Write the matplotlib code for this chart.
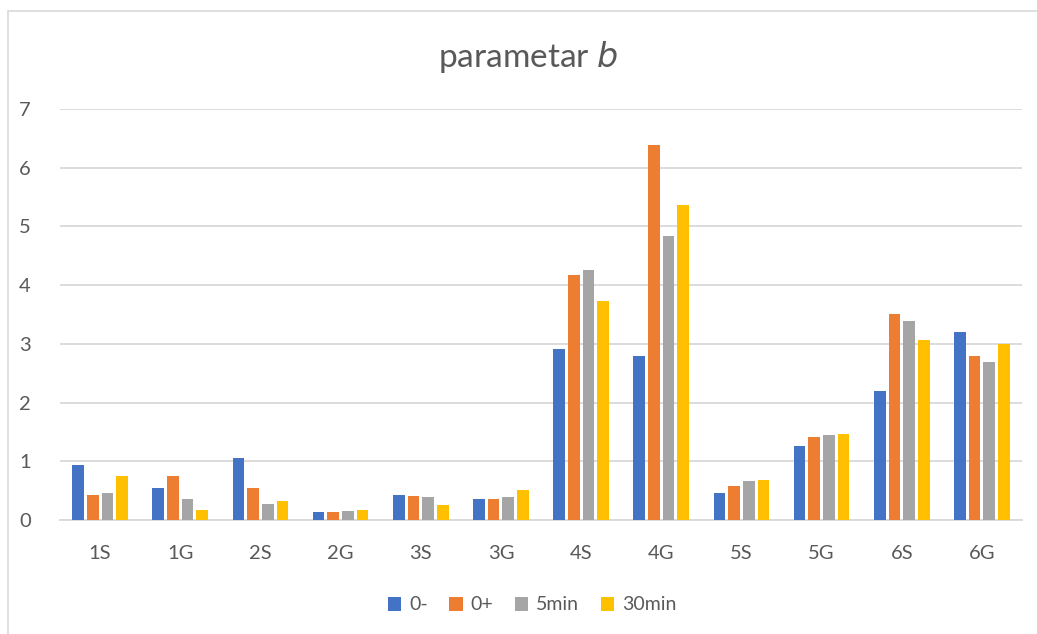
import matplotlib
matplotlib.use("Agg")
import matplotlib.pyplot as plt
from matplotlib.patches import Rectangle
import numpy as np

categories = ["1S", "1G", "2S", "2G", "3S", "3G", "4S", "4G", "5S", "5G", "6S", "6G"]
series_names = ["0-", "0+", "5min", "30min"]
s_0minus = [0.94, 0.55, 1.05, 0.14, 0.43, 0.36, 2.91, 2.80, 0.46, 1.26, 2.19, 3.20]
s_0plus = [0.42, 0.75, 0.54, 0.14, 0.41, 0.35, 4.17, 6.39, 0.58, 1.41, 3.51, 2.80]
s_5min = [0.46, 0.36, 0.28, 0.16, 0.39, 0.40, 4.26, 4.83, 0.67, 1.44, 3.39, 2.69]
s_30min = [0.75, 0.17, 0.32, 0.17, 0.26, 0.51, 3.73, 5.37, 0.68, 1.47, 3.07, 3.00]
y_ticks = [0, 1, 2, 3, 4, 5, 6, 7]

colors = ["#4472C4", "#ED7D31", "#A5A5A5", "#FFC000"]
text_color = "#595959"
grid_color = "#D9D9D9"

plt.rcParams["font.family"] = ["Lato", "DejaVu Sans"]

W, H = 1037, 634
fig = plt.figure(figsize=(W / 100, H / 100), dpi=100)
ax = fig.add_axes([60 / W, (H - 520) / H, (1022 - 60) / W, (520 - 109) / H])

# chart frame
fig.patches.append(Rectangle((8 / W, -0.1), 1.2, (H - 11) / H + 0.1,
                             transform=fig.transFigure, fill=False,
                             edgecolor=grid_color, linewidth=1.2))

x = np.arange(len(categories))
pitch = 0.183
bar_w = 0.146
all_series = [s_0minus, s_0plus, s_5min, s_30min]
for i, (name, vals, c) in enumerate(zip(series_names, all_series, colors)):
    ax.bar(x + (i - 1.5) * pitch, vals, width=bar_w, color=c, label=name, zorder=3)

ax.set_xlim(-0.5, len(categories) - 0.5)
ax.set_ylim(0, 7)
ax.set_yticks(y_ticks)
ax.set_xticks(x)
ax.set_xticklabels(categories)
ax.yaxis.grid(True, color=grid_color, linewidth=1.3, zorder=0)
ax.set_axisbelow(True)
for sp in ["top", "right", "left"]:
    ax.spines[sp].set_visible(False)
ax.spines["bottom"].set_color(grid_color)
ax.spines["bottom"].set_linewidth(1.3)
ax.tick_params(axis="both", length=0, labelsize=14.5, colors=text_color)
ax.tick_params(axis="y", pad=21)
ax.tick_params(axis="x", pad=18)

fig.text(528 / W, (H - 57) / H, "parametar $\\mathit{b}$", ha="center", va="center",
         fontsize=24, color=text_color)

leg = fig.legend(loc="center", bbox_to_anchor=(532 / W, (H - 605) / H), ncol=4,
                 frameon=False, handlelength=0.7, handleheight=0.7,
                 handletextpad=0.4, columnspacing=1.1, fontsize=14)
for t in leg.get_texts():
    t.set_color(text_color)

fig.savefig("out.png", dpi=100)
